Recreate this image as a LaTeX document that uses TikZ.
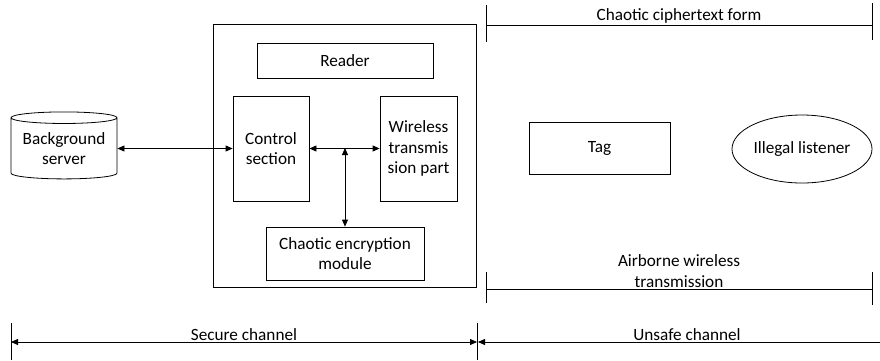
\documentclass[tikz,border=0pt]{standalone}
\usepackage{fontspec}
\setmainfont{Carlito}
\usetikzlibrary{shapes.geometric,arrows.meta}
\begin{document}
\begin{tikzpicture}[x=1pt,y=-1pt,
  every node/.style={font=\fontsize{17.2}{20.5}\selectfont},
  box/.style={draw, line width=0.8pt, align=center, inner sep=0pt},
  conn/.style={line width=0.8pt, {Triangle[length=7pt,width=6pt]}-{Triangle[length=7pt,width=6pt]}},
  rail/.style={line width=0.8pt},
  lbl/.style={inner sep=1pt, align=center}]
\useasboundingbox (0,0) rectangle (880,360);
% outer reader box
\node[box, minimum width=263pt, minimum height=263pt] (outer) at (344.5,156) {};
\node[box, minimum width=176pt, minimum height=35pt] (reader) at (345,60.5) {Reader};
\node[box, minimum width=76pt, minimum height=105pt] (ctrl) at (271,148.5) {Control\\section};
\node[box, minimum width=77pt, minimum height=105pt] (wire) at (418.5,148.5) {Wireless\\transmis\\sion part};
\node[box, minimum width=158pt, minimum height=53pt] (enc) at (345,253.5) {Chaotic encryption\\module};
\node[draw, line width=0.8pt, cylinder, shape border rotate=90, aspect=0.14, minimum width=106pt, minimum height=67pt, align=center, inner sep=0pt] (server) at (64,148.5) {Background\\server};
\node[box, minimum width=141pt, minimum height=52pt] (tag) at (599.5,148) {Tag};
\node[draw, line width=0.8pt, ellipse, minimum width=140pt, minimum height=68pt, inner sep=0pt] (listener) at (802,149) {Illegal listener};
% connectors
\draw[conn] (server.east) -- (ctrl.west |- server.east);
\draw[conn] (ctrl.east) -- (wire.west);
\coordinate (mid) at (345,148);
\draw[conn] (mid) -- (enc.north);
% top rail
\coordinate (tl) at (486,25);
\coordinate (tr) at (872,25);
\draw[rail] (486,5) -- (486,42);
\draw[rail] (872,3) -- (872,40);
\draw[rail] (tl) -- (tr) node[lbl, midway, above] (ctext) {Chaotic ciphertext form};
% bottom rail
\coordinate (bl) at (486,289);
\coordinate (br) at (872,289);
\draw[rail] (486,272) -- (486,303);
\draw[rail] (872,272) -- (872,305);
\draw[rail] (bl) -- (br) node[lbl, midway, above] (atext) {Airborne wireless\\transmission};
% secure channel
\coordinate (sl) at (11,342);
\coordinate (sr) at (477,342);
\draw[rail] (11,323) -- (11,360);
\draw[rail] (477,323) -- (477,360);
\draw[conn] (sl) -- (sr) node[lbl, midway, above] (stext) {Secure channel};
% unsafe channel
\coordinate (ul) at (478,342);
\coordinate (ur) at (880,342);
\draw[line width=0.8pt, -{Triangle[length=7pt,width=6pt]}] (ur) -- (ul);
\node[lbl, above] (utext) at (687,342) {Unsafe channel};
\end{tikzpicture}
\end{document}
